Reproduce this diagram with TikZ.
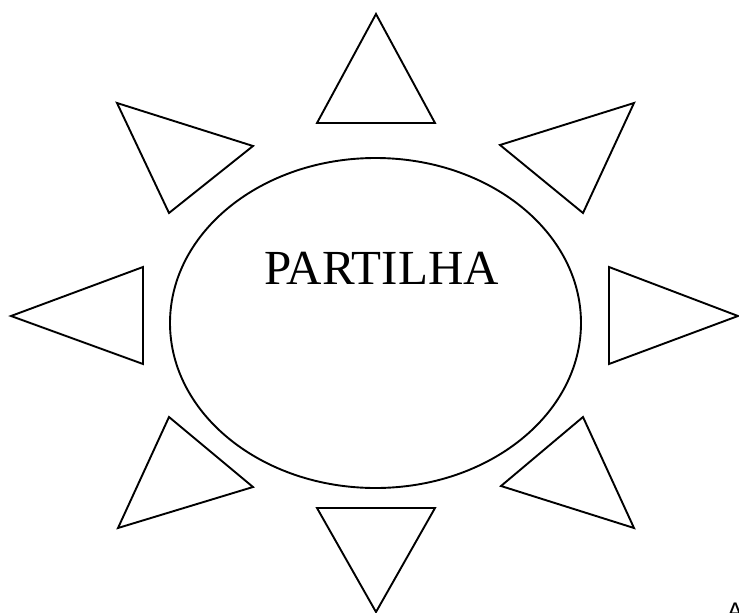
\documentclass[tikz,border=0pt]{standalone}
\usepackage{fontspec}
\setmainfont{Liberation Serif}
\newfontfamily\letrasans{Liberation Sans}
\usetikzlibrary{shapes.geometric}
\tikzset{
  raio/.style   = {draw, line width=1.9pt, line join=miter},
  nucleo/.style = {ellipse, draw, line width=1.9pt, inner sep=0pt},
  rotulo/.style = {font=\fontsize{49}{52}\selectfont},
}
\newcommand{\ponta}[6]{%
  \draw[raio] (#1,#2) -- (#3,#4) -- (#5,#6) -- cycle;
}

\begin{document}
\begin{tikzpicture}[x=1pt, y=-1pt]
  \useasboundingbox (0,0) rectangle (739,613);
  \node[nucleo, minimum width=411pt, minimum height=330pt] (sol) at (375.5,323) {};
  \node[rotulo] (titulo) at (381.5,268) {PARTILHA};
  % raios
  \ponta{376}{14}{317}{123}{435}{123}
  \ponta{376}{612}{317}{508}{435}{508}
  \ponta{11}{316}{143}{267}{143}{364}
  \ponta{738}{316}{609}{267}{609}{364}
  \ponta{117}{103}{253}{146}{169}{213}
  \ponta{634}{103}{500}{145}{583}{213}
  \ponta{169}{417}{253}{487}{118}{528}
  \ponta{583}{417}{501}{486}{634}{528}
  \node[font=\letrasans\fontsize{24}{26}\selectfont, anchor=north, inner sep=0pt] (resto) at (735,603) {A};
\end{tikzpicture}
\end{document}
